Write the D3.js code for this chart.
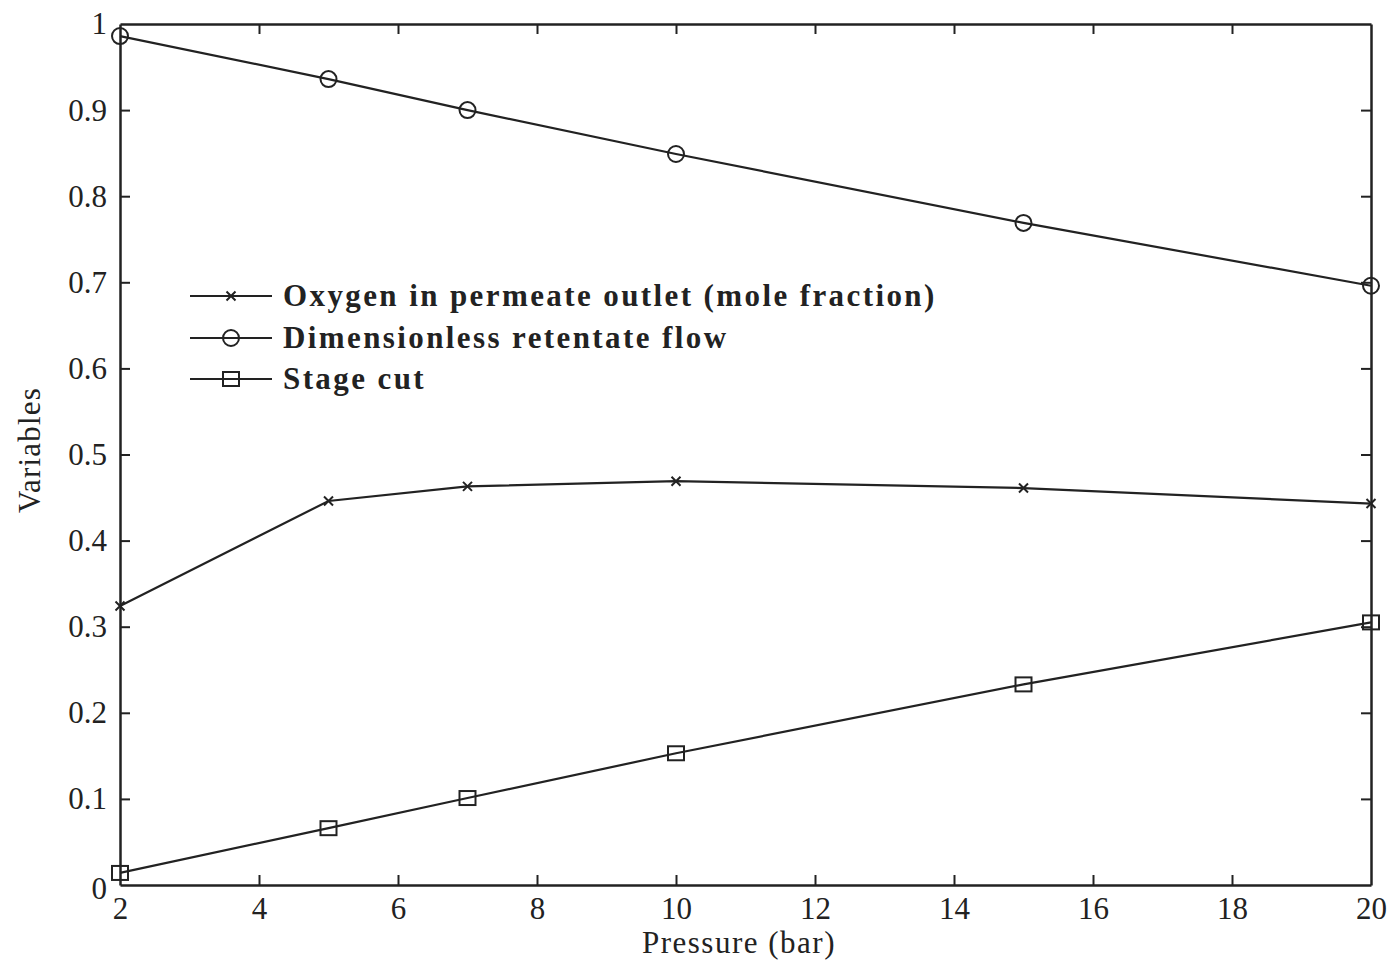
<!DOCTYPE html>
<html>
<head>
<meta charset="utf-8">
<script src="https://cdn.jsdelivr.net/npm/d3@7"></script>
<style>
  html, body { margin: 0; padding: 0; background: #fff; }
  svg { display: block; }
  text { font-family: "Liberation Serif", "Times New Roman", serif; fill: #222; }
</style>
</head>
<body>
<svg id="chart" width="1391" height="963"></svg>
<script>
// Membrane separation results versus feed pressure
const pressure = [2, 5, 7, 10, 15, 20];
const oxygenPermeate = [0.324, 0.446, 0.463, 0.469, 0.461, 0.443];
const retentateFlow = [0.986, 0.936, 0.900, 0.849, 0.769, 0.696];
const stageCut = [0.014, 0.066, 0.101, 0.153, 0.233, 0.305];

const xTicks = [2, 4, 6, 8, 10, 12, 14, 16, 18, 20];
const yTicks = [0, 0.1, 0.2, 0.3, 0.4, 0.5, 0.6, 0.7, 0.8, 0.9, 1];
const seriesNames = [
  "Oxygen in permeate outlet (mole fraction)",
  "Dimensionless retentate flow",
  "Stage cut"
];
const seriesMarkers = ["cross", "circle", "square"];

const series = [oxygenPermeate, retentateFlow, stageCut].map((vals, i) => ({
  name: seriesNames[i],
  marker: seriesMarkers[i],
  points: pressure.map((p, j) => ({ x: p, y: vals[j] }))
}));

const svg = d3.select("#chart");
const plotL = 120, plotR = 1371, plotT = 24, plotB = 885;
const ink = "#222";

const x = d3.scaleLinear().domain([2, 20]).range([plotL, plotR]);
const y = d3.scaleLinear().domain([0, 1]).range([plotB, plotT]);

// Frame with inward ticks on all four sides
const tickLen = 10;
const fmtY = d => d === 0 ? "0" : d === 1 ? "1" : d3.format(".1f")(d);

const axB = svg.append("g").attr("transform", `translate(0,${plotB})`)
  .call(d3.axisBottom(x).tickValues(xTicks).tickSizeInner(-tickLen).tickSizeOuter(0).tickPadding(12).tickFormat(d3.format("d")));
const axT = svg.append("g").attr("transform", `translate(0,${plotT})`)
  .call(d3.axisTop(x).tickValues(xTicks).tickSizeInner(-tickLen).tickSizeOuter(0).tickFormat(""));
const axL = svg.append("g").attr("transform", `translate(${plotL},0)`)
  .call(d3.axisLeft(y).tickValues(yTicks).tickSizeInner(-tickLen).tickSizeOuter(0).tickPadding(13).tickFormat(fmtY));
const axR = svg.append("g").attr("transform", `translate(${plotR},0)`)
  .call(d3.axisRight(y).tickValues(yTicks).tickSizeInner(-tickLen).tickSizeOuter(0).tickFormat(""));

[axB, axT, axL, axR].forEach(g => {
  g.selectAll(".domain").attr("stroke", ink).attr("stroke-width", 2.5);
  g.selectAll(".tick line").attr("stroke", ink).attr("stroke-width", 2);
  g.selectAll(".tick text").style("font-family", '"Liberation Serif", serif')
    .style("font-size", "31px").attr("fill", ink);
});
// Hide edge ticks that overlap the frame
axB.selectAll(".tick").filter(d => d === 2 || d === 20).select("line").remove();
axT.selectAll(".tick").filter(d => d === 2 || d === 20).select("line").remove();
axL.selectAll(".tick").filter(d => d === 0 || d === 1).select("line").remove();
axR.selectAll(".tick").filter(d => d === 0 || d === 1).select("line").remove();
axL.selectAll(".tick text").filter(d => d === 0).attr("dy", "0.42em");

// Axis titles
svg.append("text").attr("x", 739).attr("y", 953)
  .attr("text-anchor", "middle").style("font-size", "31px").style("letter-spacing", "1.5px")
  .text("Pressure (bar)");
svg.append("text").attr("transform", `translate(40,450) rotate(-90)`)
  .attr("text-anchor", "middle").style("font-size", "31px").style("letter-spacing", "1.2px")
  .text("Variables");

// Marker drawing helper
function drawMarker(g, type, cx, cy) {
  if (type === "circle") {
    g.append("circle").attr("cx", cx).attr("cy", cy).attr("r", 8)
      .attr("fill", "none").attr("stroke", ink).attr("stroke-width", 2);
  } else if (type === "square") {
    g.append("rect").attr("x", cx - 8).attr("y", cy - 7).attr("width", 16).attr("height", 14)
      .attr("fill", "none").attr("stroke", ink).attr("stroke-width", 2);
  } else {
    const s = 4.5;
    g.append("path").attr("d", `M${cx - s},${cy - s}L${cx + s},${cy + s}M${cx - s},${cy + s}L${cx + s},${cy - s}`)
      .attr("stroke", ink).attr("stroke-width", 2);
  }
}

const line = d3.line().x(d => x(d.x)).y(d => y(d.y));

series.forEach(s => {
  const g = svg.append("g");
  g.append("path").datum(s.points).attr("d", line)
    .attr("fill", "none").attr("stroke", ink).attr("stroke-width", 2.2);
  s.points.forEach(p => drawMarker(g, s.marker, x(p.x), y(p.y)));
});

// Legend
const legend = svg.append("g");
const legendRows = [296, 338, 379];
series.forEach((s, i) => {
  const ly = legendRows[i];
  legend.append("line").attr("x1", 190).attr("x2", 272).attr("y1", ly).attr("y2", ly)
    .attr("stroke", ink).attr("stroke-width", 2);
  drawMarker(legend, s.marker, 231, ly);
  legend.append("text").attr("x", 283).attr("y", ly).attr("dy", "0.33em")
    .style("font-size", "31px").style("font-weight", "bold").style("letter-spacing", "2.4px")
    .text(s.name);
});
</script>
</body>
</html>
